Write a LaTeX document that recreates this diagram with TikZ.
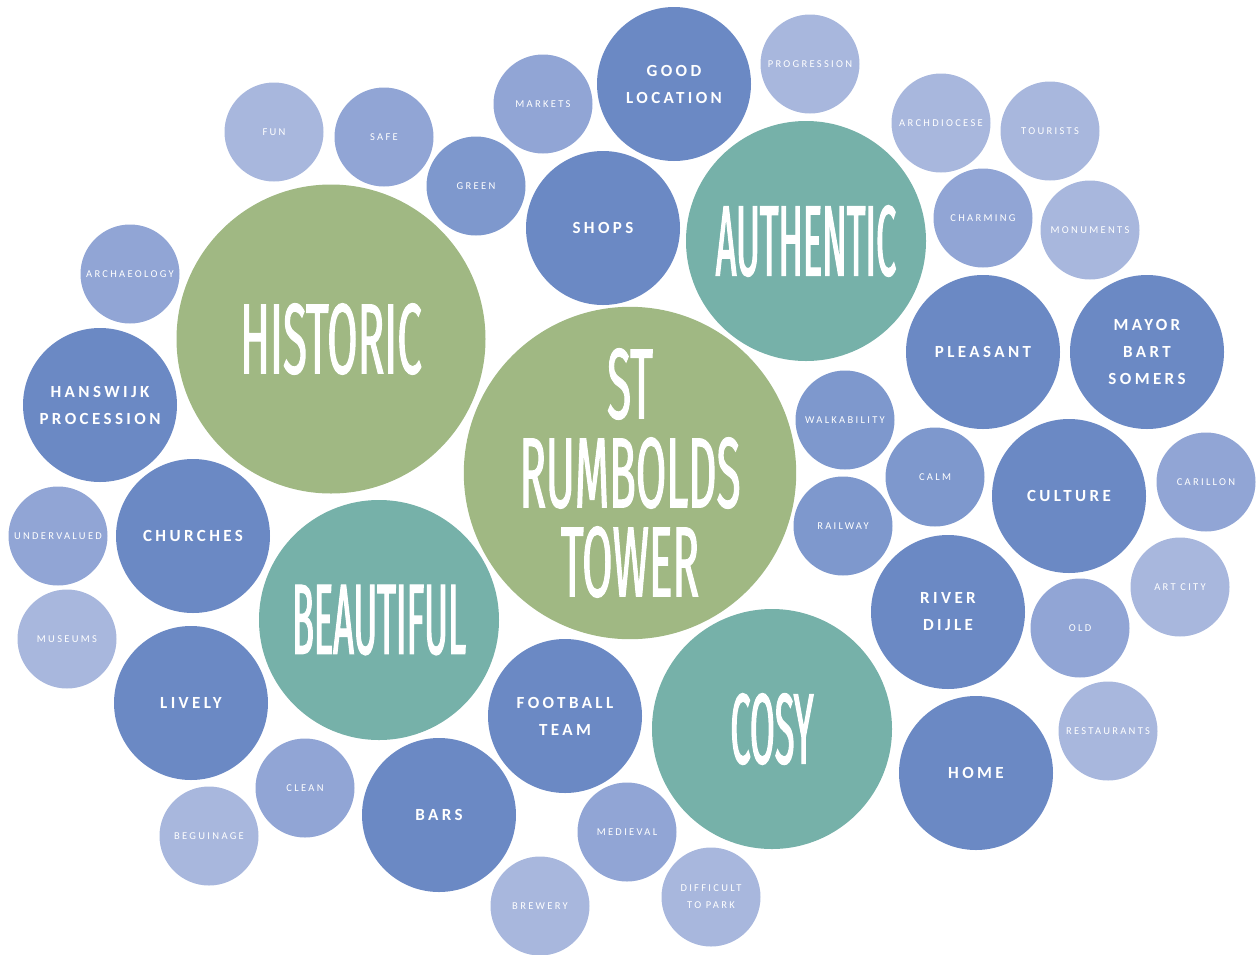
\documentclass[tikz,border=0pt]{standalone}
\usepackage{fontspec}
\setmainfont{Carlito}
\newfontfamily\tallfont[FakeStretch=0.44, FakeBold=1]{Fira Sans}
\newfontfamily\slimfont[FakeStretch=0.36, FakeBold=1.2]{Fira Sans}
\definecolor{sage}{HTML}{A0B883}
\definecolor{jade}{HTML}{76B1A9}
\definecolor{navyish}{HTML}{6B89C4}
\definecolor{midblue}{HTML}{7E98CD}
\definecolor{softblue}{HTML}{91A5D5}
\definecolor{paleblue}{HTML}{A8B7DD}
\tikzset{
  bubble/.style={shape=circle, inner sep=0pt, align=center, text=white},
  bigword/.style={bubble, minimum size=240pt, fill=jade,
    font=\slimfont\fontsize{100}{89}\selectfont},
  greenword/.style={bubble, fill=sage,
    font=\tallfont\fontsize{100}{89}\selectfont},
  keyword/.style={bubble, minimum size=154pt, fill=navyish,
    font=\bfseries\addfontfeatures{LetterSpace=20}\fontsize{17}{27}\selectfont},
  smallword/.style={bubble, minimum size=99pt, fill=softblue,
    font=\addfontfeatures{LetterSpace=22}\fontsize{10.5}{17}\selectfont}
}
\begin{document}
\begin{tikzpicture}[x=1pt, y=-1pt]
    \useasboundingbox (0,0) rectangle (1256,954);

    % biggest bubbles
    \node[greenword, minimum size=327pt] (tower) at (630,473) {ST\\RUMBOLDS\\TOWER};
    \node[greenword, minimum size=309pt] (historic) at (331,339) {HISTORIC};
    \node[bigword] (authentic) at (806,241) {AUTHENTIC};
    \node[bigword] (beautiful) at (379,620) {BEAUTIFUL};
    \node[bigword] (cosy) at (772,729) {COSY};

    % medium bubbles
    \foreach \px/\py/\id/\txt in {674/84/location/{GOOD\\LOCATION}, 603/228/shops/SHOPS,
        983/352/pleasant/PLEASANT, 1147/352/mayor/{MAYOR\\BART\\SOMERS},
        100/405/hanswijk/{HANSWIJK\\PROCESSION}, 193/536/churches/CHURCHES,
        1069/496/culture/CULTURE, 948/612/dijle/{RIVER\\DIJLE}, 191/703/lively/LIVELY,
        565/716/football/{FOOTBALL\\TEAM}, 439/815/bars/BARS, 976/773/home/HOME}
        {\node[keyword] (\id) at (\px,\py) {\txt};}

    % small bubbles, three shades
    \foreach \px/\py/\id/\txt in {384/137/safe/SAFE, 543/104/markets/MARKETS,
        983/218/charming/CHARMING, 130/274/archaeology/ARCHAEOLOGY,
        58/536/undervalued/UNDERVALUED, 1206/482/carillon/CARILLON,
        1080/628/old/OLD, 305/788/clean/CLEAN, 627/832/medieval/MEDIEVAL}
        {\node[smallword] (\id) at (\px,\py) {\txt};}
    \foreach \px/\py/\id/\txt in {476/186/green/GREEN, 845/420/walkability/WALKABILITY,
        935/477/calm/CALM, 843/526/railway/RAILWAY}
        {\node[smallword, fill=midblue] (\id) at (\px,\py) {\txt};}
    \foreach \px/\py/\id/\txt in {274/132/fun/FUN, 810/64/progression/PROGRESSION,
        941/123/archdiocese/ARCHDIOCESE, 1050/131/tourists/TOURISTS,
        1090/230/monuments/MONUMENTS, 67/639/museums/MUSEUMS,
        1180/587/artcity/ART CITY, 1108/731/restaurants/RESTAURANTS,
        209/836/beguinage/BEGUINAGE, 540/906/brewery/BREWERY,
        711/897/parking/{DIFFICULT\\TO PARK}}
        {\node[smallword, fill=paleblue] (\id) at (\px,\py) {\txt};}
\end{tikzpicture}
\end{document}
